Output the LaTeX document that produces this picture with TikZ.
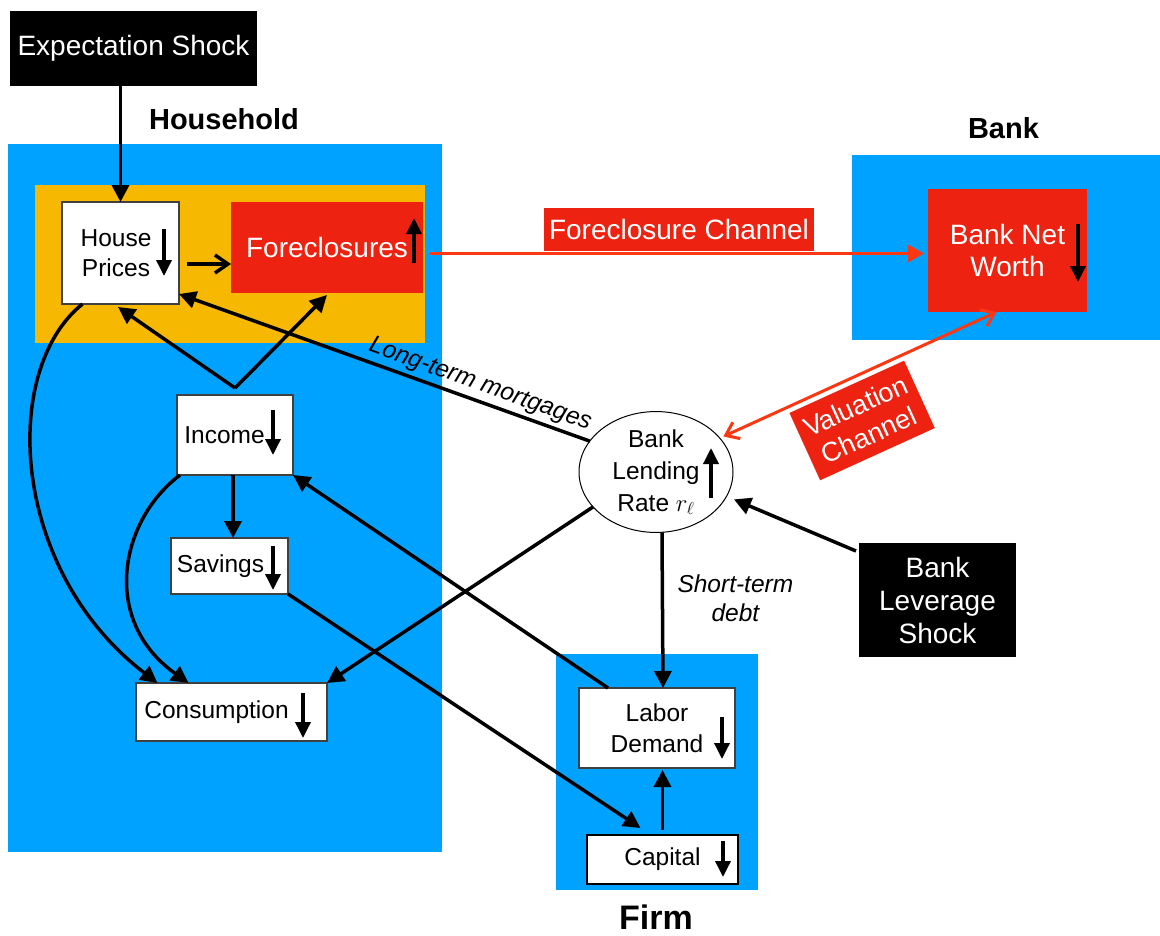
\documentclass[tikz,border=0pt]{standalone}
\usepackage{fontspec}
\setmainfont{Liberation Sans}
\usetikzlibrary{arrows.meta,shapes.geometric,positioning,calc}

\definecolor{panelblue}{RGB}{0,162,255}
\definecolor{housingorange}{RGB}{246,184,0}
\definecolor{channelred}{RGB}{238,34,17}
\definecolor{linkred}{RGB}{252,56,18}

\tikzset{
	panel/.style = {fill=panelblue, inner sep=0pt, outer sep=0pt},
	var/.style = {draw=black!75, line width=1.2pt, fill=white, inner sep=0pt, outer sep=0pt, align=center, font=\fontsize{24.5}{31}\selectfont},
	hot/.style = {fill=channelred, text=white, inner sep=0pt, outer sep=0pt, align=center, font=\fontsize{28}{32}\selectfont},
	shockbox/.style = {fill=black, text=white, inner sep=0pt, outer sep=0pt, align=center, font=\fontsize{28}{33}\selectfont},
	grouplabel/.style = {font=\bfseries\fontsize{29}{34}\selectfont},
	link/.style = {line width=3.5pt, -{Triangle[length=17pt,width=17pt]}},
	trend/.style = {line width=3.5pt, -{Triangle[length=16pt,width=15pt]}},
	redlink/.style = {draw=linkred, line width=3pt},
	slanted/.style = {font=\itshape\fontsize{24.5}{29}\selectfont},
}

\begin{document}
\begin{tikzpicture}[x=1pt, y=-1pt]
	\useasboundingbox (0,0) rectangle (1160,935);

	% sectors
	\node[panel, minimum width=434pt, minimum height=708pt](hhbox) at (225,498) {};
	\node[panel, fill=housingorange, minimum width=390pt, minimum height=158pt](housing) at (230,264) {};
	\node[panel, minimum width=308pt, minimum height=185pt](bankbox) at (1006,247.5) {};
	\node[panel, minimum width=202pt, minimum height=236pt](firmbox) at (657,772) {};

	\node[grouplabel](hhlabel) at (224,119) {Household};
	\node[grouplabel](banklabel) at (1003.5,128) {Bank};
	\node[grouplabel, font=\bfseries\fontsize{34}{40}\selectfont](firmlabel) at (656,917) {Firm};

	% shocks
	\node[shockbox, minimum width=247pt, minimum height=75pt](expshock) at (133.5,48.5) {Expectation Shock};
	\node[shockbox, minimum width=157pt, minimum height=114pt](levshock) at (937.5,600) {Bank\\Leverage\\Shock};

	% variables
	\node[var, minimum width=117pt, minimum height=102pt, font=\fontsize{24.5}{30}\selectfont](prices) at (120.5,253) {House\hspace*{9pt}\\Prices\hspace*{9pt}};
	\node[hot, minimum width=192pt, minimum height=91pt](forecl) at (327,247.5) {Foreclosures};
	\node[hot, minimum width=159pt, minimum height=123pt](networth) at (1007.5,250.5) {Bank Net\\Worth};
	\node[var, ellipse, draw=black, line width=1pt, minimum width=154pt, minimum height=120pt, font=\fontsize{24.5}{32}\selectfont](rate) at (656,472) {Bank\\Lending\\Rate $r_\ell$};
	\node[var, minimum width=116pt, minimum height=80pt](income) at (235,435) {Income\hspace*{21pt}};
	\node[var, minimum width=117pt, minimum height=56pt](savings) at (229.5,566) {Savings\hspace*{18pt}};
	\node[var, minimum width=191pt, minimum height=58pt](consumption) at (231.5,712) {Consumption\hspace*{30pt}};
	\node[var, minimum width=156pt, minimum height=80pt](labor) at (657,728) {Labor\\Demand};
	\node[var, draw=black, line width=2.4pt, minimum width=151pt, minimum height=49pt](capital) at (662.5,859.5) {Capital};

	% up / down marks
	\draw[trend] (164,229) -- (164,276);
	\draw[trend] (414,263) -- (414,218);
	\draw[trend] (1078,224) -- (1078,282);
	\draw[trend] (273,410) -- (273,455);
	\draw[trend] (273,546) -- (273,590);
	\draw[trend] (303,693) -- (303,738);
	\draw[trend] (711,498) -- (711,448);
	\draw[trend] (722,717) -- (722,759);
	\draw[trend] (723,841) -- (723,877);

	% household links
	\draw[link] (expshock.south -| prices.north) -- (prices.north);
	\draw[line width=3.5pt, -{Straight Barb[length=13pt,width=18pt]}]
		([xshift=8pt,yshift=-11pt]prices.east) -- ([yshift=-11pt]prices.east -| forecl.west);
	\coordinate(fork) at ([yshift=7pt]income.north);
	\draw[link] (fork) -- ([xshift=-2.5pt,yshift=-3pt]prices.south);
	\draw[link] (fork) -- ([yshift=-2pt]forecl.south);
	\draw[link] ([xshift=-2pt]income.south) -- ([xshift=-2pt]income.south |- savings.north);
	\draw[link] ([xshift=-38pt]prices.south) .. controls (0,370) and (10,570) .. ([xshift=-74pt]consumption.north);
	\draw[link] ([xshift=3pt]income.south west) .. controls (120,520) and (100,620) .. ([xshift=-43pt]consumption.north);

	% channels
	\draw[redlink, -{Triangle[length=16pt,width=17pt]}, shorten >=4pt]
		([xshift=7pt,yshift=-6pt]forecl.east) -- ([yshift=-6pt]forecl.east -| networth.west)
		node[hot, midway, above=3pt, minimum width=270pt, minimum height=43pt](fclabel) {Foreclosure Channel};
	\draw[redlink, {Straight Barb[length=12pt,width=18pt]}-{Straight Barb[length=12pt,width=18pt]}, shorten <=4pt]
		(rate.28) -- ([xshift=-11pt]networth.south)
		node[hot, sloped, pos=0.45, below=6pt, minimum width=126pt, minimum height=74pt, font=\fontsize{27}{32}\selectfont](vallabel) {Valuation\\Channel};

	% lending rate links
	\draw[link] (rate.155) -- ([yshift=10pt]prices.south east)
		node[slanted, sloped, pos=0.28, above=0pt](ltlabel) {Long-term mortgages};
	\draw[link] (rate.209) -- (consumption.north east);
	\draw[link] ([xshift=6pt]rate.south) -- ([xshift=6pt]labor.north)
		node[slanted, pos=0.42, right=10pt, align=center](stlabel) {Short-term\\debt};
	\draw[link, shorten >=8pt] ([xshift=-3pt,yshift=-8pt]levshock.north west) -- (rate.-19);

	% firm links
	\draw[link] ([xshift=-49pt]labor.north) -- (income.south east);
	\draw[link] (savings.south east) -- ([xshift=-22pt,yshift=7pt]capital.north);
	\draw[link, shorten >=2pt] ([yshift=5pt]capital.north) -- (capital.north |- labor.south);
\end{tikzpicture}
\end{document}
